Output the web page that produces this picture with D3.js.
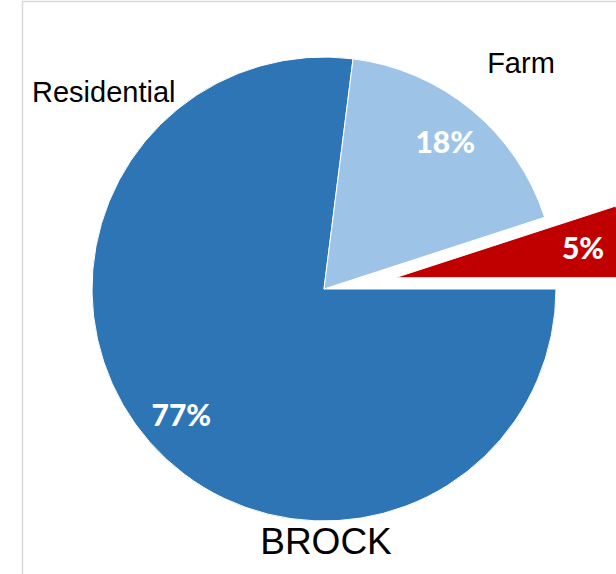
<!DOCTYPE html>
<html><head><meta charset="utf-8">
<script src="https://cdn.jsdelivr.net/npm/d3@7"></script>
<style>html,body{margin:0;padding:0;background:#fff;overflow:hidden}</style>
</head><body>
<svg id="c" width="616" height="574"></svg>
<script>
const categories = ["Residential", "Farm", "Other"];
const values = [77, 18, 5];
const pctLabels = ["77%", "18%", "5%"];
const colors = ["#2E75B6", "#9DC3E6", "#C00000"];
const title = "BROCK";

const svg = d3.select("#c");
svg.append("rect").attr("x", 22.5).attr("y", 1.5).attr("width", 800).attr("height", 800)
  .attr("fill", "#fff").attr("stroke", "#D9D9D9").attr("stroke-width", 1.5);

const cx = 324, cy = 289, r = 232, explode = 72;
const pie = d3.pie().sort(null).startAngle(Math.PI / 2).endAngle(Math.PI / 2 + 2 * Math.PI);
const arcs = pie(values);
const arc = d3.arc().innerRadius(0).outerRadius(r);
const labelArc = d3.arc().innerRadius(r * 0.82).outerRadius(r * 0.82);

const g = svg.append("g").attr("transform", `translate(${cx},${cy})`);
const slices = g.selectAll("g.s").data(arcs).join("g").attr("class", "s")
  .attr("transform", (d, i) => {
    if (i !== 2) return null;
    const m = (d.startAngle + d.endAngle) / 2;
    return `translate(${explode * Math.sin(m)},${-explode * Math.cos(m)})`;
  });
slices.append("path").attr("d", arc).attr("fill", (d, i) => colors[i])
  .attr("stroke", "#fff").attr("stroke-width", 1);
slices.append("text")
  .attr("transform", d => `translate(${labelArc.centroid(d)})`)
  .attr("text-anchor", "middle").attr("dy", "0.36em")
  .attr("font-family", "Lato, 'Open Sans', sans-serif").attr("font-weight", "900")
  .attr("font-size", 30).attr("fill", "#fff")
  .text((d, i) => pctLabels[i]);

const txt = (s, x, y, size, anchor) => svg.append("text").attr("x", x).attr("y", y)
  .attr("font-family", "'Liberation Sans', Arial, sans-serif").attr("font-size", size)
  .attr("text-anchor", anchor).attr("fill", "#000").text(s);
txt(categories[0], 32, 102, 29, "start");
txt(categories[1], 521, 73, 29, "middle");
txt(title, 326, 554, 37, "middle");
</script>
</body></html>
